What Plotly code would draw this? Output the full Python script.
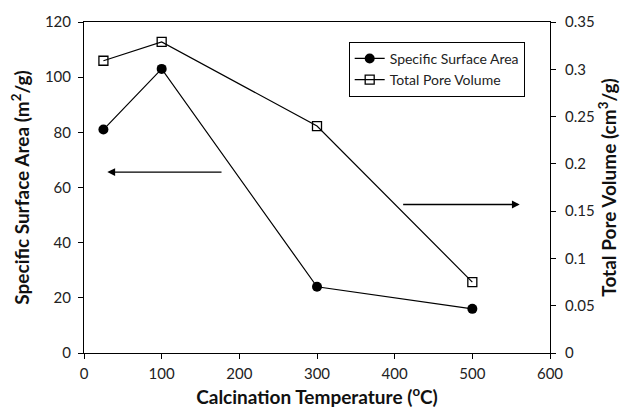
import plotly.graph_objects as go

temps = [25, 100, 300, 500]
ssa = [81, 103, 24, 16]
tpv = [0.309, 0.329, 0.240, 0.075]
x_ticks = [0, 100, 200, 300, 400, 500, 600]
y1_ticks = [0, 20, 40, 60, 80, 100, 120]
y2_ticks = [0, 0.05, 0.1, 0.15, 0.2, 0.25, 0.3, 0.35]
y2_labels = ["0", "0.05", "0.1", "0.15", "0.2", "0.25", "0.3", "0.35"]

FONT = "Lato"

fig = go.Figure()
fig.add_trace(go.Scatter(
    x=temps, y=ssa, name="Specific Surface Area", mode="lines+markers",
    line=dict(color="black", width=1.2),
    marker=dict(symbol="circle", size=10, color="black"),
))
fig.add_trace(go.Scatter(
    x=temps, y=tpv, name="Total Pore Volume", mode="lines+markers", yaxis="y2",
    line=dict(color="black", width=1.2),
    marker=dict(symbol="square-open", size=9, color="black", line=dict(width=1.3)),
))

# arrows
fig.add_annotation(x=30, y=65.6, ax=179, ay=65.6, xref="x", yref="y", axref="x", ayref="y",
                   showarrow=True, arrowhead=2, arrowsize=1.2, arrowwidth=1.3, arrowcolor="black", text="")
fig.add_annotation(x=561, y=0.157, ax=409, ay=0.157, xref="x", yref="y2", axref="x", ayref="y2",
                   showarrow=True, arrowhead=2, arrowsize=1.2, arrowwidth=1.3, arrowcolor="black", text="")

TITLE_FONT = dict(size=19, family=FONT, color="#111")

fig.update_layout(
    width=627, height=411,
    margin=dict(l=84, r=77, t=20, b=58),
    paper_bgcolor="white", plot_bgcolor="white",
    font=dict(family=FONT, size=15, color="#222"),
    showlegend=True,
    legend=dict(x=0.568, y=0.94, xanchor="left", yanchor="top",
                bordercolor="black", borderwidth=1, bgcolor="white",
                font=dict(size=14, color="#222"), tracegroupgap=0),
    xaxis=dict(range=[0, 600], tickvals=x_ticks, showline=True, linecolor="black", linewidth=1,
               ticks="outside", ticklen=5, tickcolor="black", mirror=True, showgrid=False, zeroline=False,
               ticklabelstandoff=2, automargin=False,
               title=dict(text="<b>Calcination Temperature (<sup>o</sup>C)</b>", font=TITLE_FONT, standoff=9)),
    yaxis=dict(range=[0, 120], tickvals=y1_ticks, showline=True, linecolor="black", linewidth=1,
               ticks="outside", ticklen=5, tickcolor="black", showgrid=False, zeroline=False,
               ticklabelstandoff=4,
               title=dict(text="<b>Specific Surface Area (m<sup>2</sup>/g)</b>", font=TITLE_FONT, standoff=10)),
    yaxis2=dict(range=[0, 0.35], tickvals=y2_ticks, ticktext=y2_labels, overlaying="y", side="right",
                showline=True, linecolor="black", linewidth=1,
                ticks="outside", ticklen=5, tickcolor="black", showgrid=False, zeroline=False,
                ticklabelstandoff=6,
                title=dict(text="<b>Total Pore Volume (cm<sup>3</sup>/g)</b>", font=TITLE_FONT, standoff=6)),
)

fig.write_html("out.html")
